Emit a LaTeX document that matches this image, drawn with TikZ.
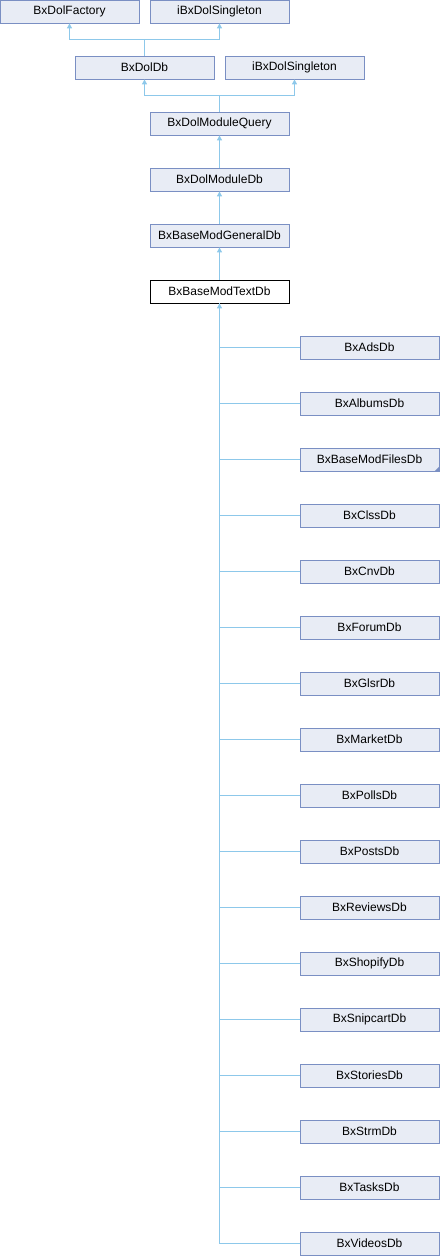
\documentclass[tikz,border=0pt]{standalone}
\usepackage{fontspec}
\setmainfont{Liberation Sans}
\usetikzlibrary{arrows.meta}

\definecolor{boxfill}{HTML}{E8ECF5}
\definecolor{boxline}{HTML}{7A8FC3}
\definecolor{edgecol}{HTML}{8DC8EA}

\begin{document}
\begin{tikzpicture}[x=1pt,y=-1pt,>={Triangle[width=5pt,length=5pt]},
  every node/.style={font=\fontsize{12}{14}\selectfont},
  cls/.style={draw=boxline,fill=boxfill,line width=0.8pt,minimum width=139pt,minimum height=23pt,inner sep=0pt},
  cur/.style={draw=black,fill=white,line width=0.8pt,minimum width=139pt,minimum height=23pt,inner sep=0pt},
  edge/.style={draw=edgecol,line width=1pt}]
\useasboundingbox (0,0) rectangle (440,1256);
% base classes
\node[cls] (fac) at (69.5,11.5) {BxDolFactory};
\node[cls] (singA) at (219.5,11.5) {iBxDolSingleton};
\node[cls] (dolDb) at (144.5,67.5) {BxDolDb};
\node[cls] (singB) at (294.5,67.5) {iBxDolSingleton};
\node[cls] (query) at (219.5,123.5) {BxDolModuleQuery};
\node[cls] (modDb) at (219.5,179.5) {BxDolModuleDb};
\node[cls] (genDb) at (219.5,235.5) {BxBaseModGeneralDb};
\node[cur] (textDb) at (219.5,291.5) {BxBaseModTextDb};
% derived classes
\node[cls] (ads) at (369.5,347.5) {BxAdsDb};
\node[cls] (albums) at (369.5,403.5) {BxAlbumsDb};
\node[cls] (files) at (369.5,459.5) {BxBaseModFilesDb};
\node[cls] (clss) at (369.5,515.5) {BxClssDb};
\node[cls] (cnv) at (369.5,571.5) {BxCnvDb};
\node[cls] (forum) at (369.5,627.5) {BxForumDb};
\node[cls] (glsr) at (369.5,683.5) {BxGlsrDb};
\node[cls] (market) at (369.5,739.5) {BxMarketDb};
\node[cls] (polls) at (369.5,795.5) {BxPollsDb};
\node[cls] (posts) at (369.5,851.5) {BxPostsDb};
\node[cls] (reviews) at (369.5,907.5) {BxReviewsDb};
\node[cls] (shopify) at (369.5,963.5) {BxShopifyDb};
\node[cls] (snipcart) at (369.5,1019.5) {BxSnipcartDb};
\node[cls] (stories) at (369.5,1075.5) {BxStoriesDb};
\node[cls] (strm) at (369.5,1131.5) {BxStrmDb};
\node[cls] (tasks) at (369.5,1187.5) {BxTasksDb};
\node[cls] (videos) at (369.5,1243.5) {BxVideosDb};
\fill[boxline] (files.south east) -- ++(-5,0) -- ++(5,-5) -- cycle;
% inheritance edges
\draw[edge,->] (dolDb.north) -- ++(0,-16) -| (fac.south);
\draw[edge,->] (dolDb.north) -- ++(0,-16) -| (singA.south);
\draw[edge,->] (query.north) -- ++(0,-16) -| (dolDb.south);
\draw[edge,->] (query.north) -- ++(0,-16) -| (singB.south);
\draw[edge,->] (modDb) -- (query);
\draw[edge,->] (genDb) -- (modDb);
\draw[edge,->] (textDb) -- (genDb);
\draw[edge,->] (videos.west) -| (textDb.south);
\foreach \c in {ads,albums,files,clss,cnv,forum,glsr,market,polls,posts,reviews,shopify,snipcart,stories,strm,tasks}
  \draw[edge] (\c.west) -| (textDb.south);
\end{tikzpicture}
\end{document}
